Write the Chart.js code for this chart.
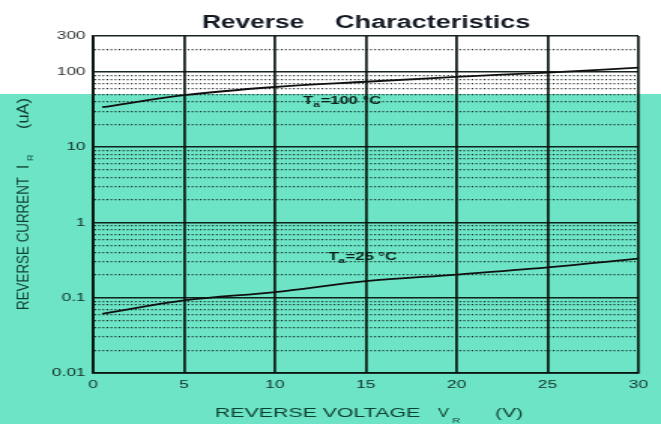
<!DOCTYPE html>
<html>
<head>
<meta charset="utf-8">
<script src="https://cdn.jsdelivr.net/npm/chart.js@4.4.1/dist/chart.umd.min.js"></script>
<style>
  html, body { margin: 0; padding: 0; }
  body {
    width: 661px; height: 424px; overflow: hidden;
    background: linear-gradient(to bottom, #ffffff 0px, #ffffff 94px, #6de4c6 94px, #6de4c6 424px);
  }
  #chart { display: block; }
</style>
</head>
<body>
<!-- the original picture is stretched sideways, so the chart is drawn narrow and widened by css -->
<canvas id="chart" width="440" height="424" style="width:661px;height:424px"></canvas>
<script>
const voltage = [0.5, 5, 10, 15, 20, 25, 30];
const current100 = [34, 49, 63, 74, 86, 98, 114];
const current25 = [0.061, 0.092, 0.119, 0.166, 0.203, 0.253, 0.33];
const xTicks = [0, 5, 10, 15, 20, 25, 30];
const yTickLabels = [0.01, 0.1, 1, 10, 100, 300];
const yDecades = [0.01, 0.1, 1, 10];
const yMinorSteps = [1, 2, 3, 4, 5, 6, 7, 8, 9];
const yTopLines = [100, 200, 300];

const yGridValues = yDecades
    .flatMap(d => yMinorSteps.map(s => +(d * s).toPrecision(3)))
    .concat(yTopLines);

const sx = 661 / 440; // css stretch
const font = "'Liberation Sans', Arial, sans-serif";
const ink = 'rgba(8, 18, 12, 0.92)';
const dotInk = 'rgba(10, 22, 16, 0.9)';
const textInk = 'rgba(0, 14, 8, 0.85)';
const titleInk = 'rgba(0, 40, 25, 0.88)';

function isMajor(v) {
    return yTickLabels.some(t => Math.abs(v - t) < t * 1e-6);
}

// draw text squeezed/stretched to a given width
function fitText(ctx, text, x, y, width) {
    const w = ctx.measureText(text).width;
    ctx.save();
    ctx.translate(x, y);
    ctx.scale(width / w, 1);
    ctx.fillText(text, 0, 0);
    ctx.restore();
}

function tempLabel(ctx, x, y, value) {
    ctx.font = 'bold 11px ' + font;
    ctx.fillText('T', x, y);
    let cx = x + ctx.measureText('T').width;
    ctx.font = 'bold 8px ' + font;
    ctx.fillText('a', cx, y + 3);
    cx += ctx.measureText('a').width + 0.5;
    ctx.font = 'bold 11px ' + font;
    ctx.fillText('=' + value + ' \u00b0C', cx, y);
}

const textPlugin = {
    id: 'texts',
    afterDraw(chart) {
        const {ctx, scales: {x, y}} = chart;
        ctx.save();
        ctx.textAlign = 'left';
        ctx.textBaseline = 'alphabetic';

        // title
        ctx.fillStyle = '#141a24';
        ctx.font = 'bold 17.5px ' + font;
        fitText(ctx, 'Reverse', 134.5, 28, 68);
        fitText(ctx, 'Characteristics', 223, 28, 130);

        // x axis title
        ctx.fillStyle = titleInk;
        ctx.font = '13px ' + font;
        fitText(ctx, 'REVERSE VOLTAGE', 143.1, 416.5, 136.5);
        fitText(ctx, 'V', 291.6, 416.5, 7.3);
        fitText(ctx, '(V)', 329.5, 416.5, 18.6);
        ctx.font = '8px ' + font;
        fitText(ctx, 'R', 300.9, 422.5, 5.3);

        // y axis title, rotated, undo the css stretch
        ctx.save();
        ctx.translate(29 / sx, 310);
        ctx.scale(1 / sx, 1);
        ctx.rotate(-Math.PI / 2);
        ctx.font = '15px ' + font;
        fitText(ctx, 'REVERSE CURRENT', 0, 0, 133);
        ctx.fillText('I', 141, 0);
        fitText(ctx, '(uA)', 181, 0, 31);
        ctx.font = '9px ' + font;
        ctx.fillText('R', 149, 4);
        ctx.restore();

        // curve labels
        ctx.fillStyle = 'rgba(4, 16, 10, 0.92)';
        tempLabel(ctx, x.getPixelForValue(11.55), y.getPixelForValue(38), 100);
        tempLabel(ctx, x.getPixelForValue(12.93), y.getPixelForValue(0.317), 25);
        ctx.restore();
    }
};

const toPoints = ys => voltage.map((v, i) => ({x: v, y: ys[i]}));

new Chart(document.getElementById('chart'), {
    type: 'line',
    data: {
        datasets: [{
            label: 'Ta=100 °C',
            data: toPoints(current100),
            borderColor: '#101010',
            borderWidth: 1.8,
            pointRadius: 0,
            cubicInterpolationMode: 'monotone'
        }, {
            label: 'Ta=25 °C',
            data: toPoints(current25),
            borderColor: '#101010',
            borderWidth: 1.8,
            pointRadius: 0,
            cubicInterpolationMode: 'monotone'
        }]
    },
    options: {
        responsive: false,
        animation: false,
        devicePixelRatio: 1,
        layout: { padding: { top: 36, right: 15, left: 0, bottom: 0 } },
        plugins: {
            legend: { display: false },
            tooltip: { enabled: false },
            title: { display: false }
        },
        scales: {
            x: {
                type: 'linear',
                min: 0,
                max: 30,
                afterBuildTicks: scale => { scale.ticks = xTicks.map(v => ({value: v})); },
                afterFit: scale => { scale.height = 51; },
                ticks: {
                    padding: 5,
                    color: textInk,
                    font: { family: font, size: 11.5 },
                    autoSkip: false,
                    maxRotation: 0
                },
                grid: { color: ink, lineWidth: 1.8, drawTicks: false },
                border: { color: ink, width: 1.8 },
                title: { display: false }
            },
            y: {
                type: 'logarithmic',
                min: 0.01,
                max: 300,
                afterBuildTicks: scale => { scale.ticks = yGridValues.map(v => ({value: v})); },
                afterFit: scale => { scale.width = 62; },
                ticks: {
                    padding: 5,
                    color: textInk,
                    font: { family: font, size: 11.5 },
                    autoSkip: false,
                    callback: v => isMajor(v) ? String(v) : ''
                },
                grid: {
                    drawTicks: false,
                    color: c => c.tick && !isMajor(c.tick.value) ? dotInk : ink,
                    lineWidth: c => c.tick && !isMajor(c.tick.value) ? 1.2 : 1.6
                },
                border: {
                    color: ink,
                    width: 1.8,
                    dash: c => c.tick && !isMajor(c.tick.value) ? [1.1, 1.6] : []
                },
                title: { display: false }
            }
        }
    },
    plugins: [textPlugin]
});
</script>
</body>
</html>
